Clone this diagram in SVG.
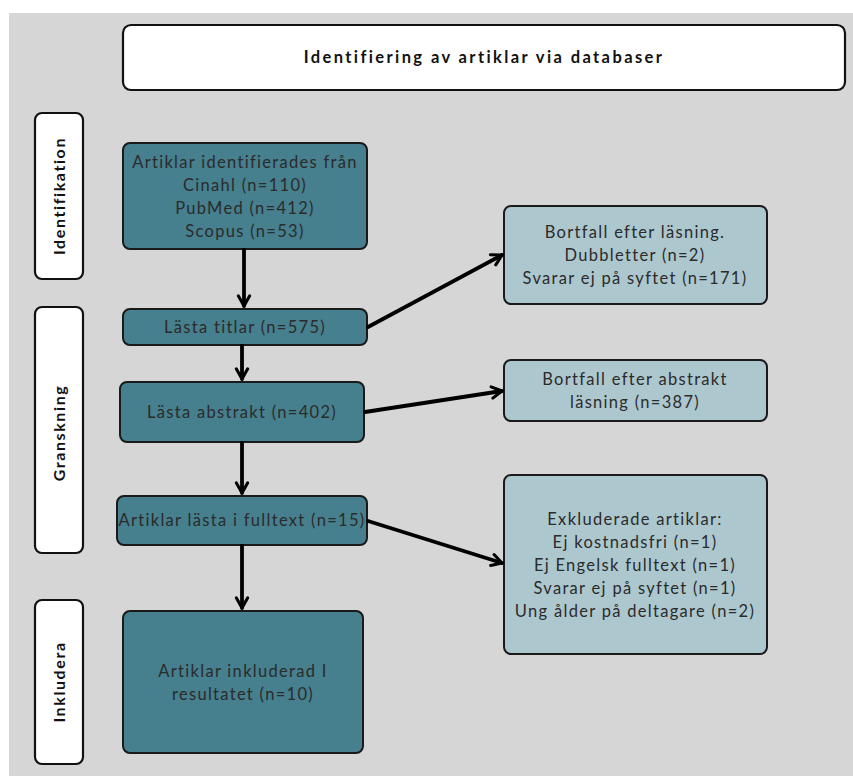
<svg xmlns="http://www.w3.org/2000/svg" width="853" height="776" viewBox="0 0 853 776">
<defs>
<style>
.bg{fill:#d6d6d6}
.lbl{fill:#ffffff;stroke:#111;stroke-width:2.2}
.dark{fill:#467f8d;stroke:#1a1a1a;stroke-width:2}
.light{fill:#adc7ce;stroke:#1a1a1a;stroke-width:2}
.t{font-family:"Lato","Noto Sans",sans-serif;font-size:16.5px;fill:#2b2b2b;text-anchor:middle;letter-spacing:1.3px}
.tb{font-family:"Lato","Noto Sans",sans-serif;font-size:16px;font-weight:bold;fill:#111;text-anchor:middle;letter-spacing:1.6px}
.tt{font-family:"Lato","Noto Sans",sans-serif;font-size:16.5px;font-weight:bold;fill:#111;text-anchor:middle;letter-spacing:2.4px}
.c{fill:none;stroke:#000;stroke-width:3.8;stroke-linecap:round}
</style>
<marker id="ah" viewBox="0 0 12 12" refX="10" refY="6" markerWidth="4" markerHeight="4" markerUnits="strokeWidth" orient="auto">
<path d="M2,1.5 L10,6 L2,10.5" fill="none" stroke="#000" stroke-width="2.4" stroke-linecap="round" stroke-linejoin="round"/>
</marker>
</defs>
<rect class="bg" x="9" y="13" width="844" height="763"/>
<g id="title"><rect class="lbl" x="123" y="25" width="722" height="65" rx="8"/><text class="tt" x="484" y="63">Identifiering av artiklar via databaser</text></g>
<g id="lbl-identifikation"><rect class="lbl" x="35" y="113" width="48" height="166" rx="7"/><text class="tb" transform="translate(65,196) rotate(-90)">Identifikation</text></g>
<g id="lbl-granskning"><rect class="lbl" x="35" y="307" width="48" height="246" rx="7"/><text class="tb" transform="translate(65,433) rotate(-90)">Granskning</text></g>
<g id="lbl-inkludera"><rect class="lbl" x="35" y="600" width="48" height="164" rx="7"/><text class="tb" transform="translate(65,682) rotate(-90)">Inkludera</text></g>
<g id="n1"><rect class="dark" x="123" y="143" width="244" height="106" rx="7"/><text class="t" x="245" y="168">Artiklar identifierades från</text><text class="t" x="245" y="191">Cinahl (n=110)</text><text class="t" x="245" y="214">PubMed (n=412)</text><text class="t" x="245" y="237">Scopus (n=53)</text></g>
<g id="n2"><rect class="dark" x="123" y="309" width="244" height="36" rx="7"/><text class="t" x="245" y="333">Lästa titlar (n=575)</text></g>
<g id="n3"><rect class="dark" x="120" y="382" width="244" height="60" rx="7"/><text class="t" x="242" y="418">Lästa abstrakt (n=402)</text></g>
<g id="n4"><rect class="dark" x="117" y="496" width="250" height="49" rx="7"/><text class="t" x="242" y="526">Artiklar lästa i fulltext (n=15)</text></g>
<g id="n5"><rect class="dark" x="123" y="611" width="240" height="142" rx="7"/><text class="t" x="243" y="677">Artiklar inkluderad I</text><text class="t" x="243" y="700">resultatet (n=10)</text></g>
<g id="r1"><rect class="light" x="504" y="206" width="263" height="98" rx="7"/><text class="t" x="635" y="238">Bortfall efter läsning.</text><text class="t" x="635" y="261">Dubbletter (n=2)</text><text class="t" x="635" y="284">Svarar ej på syftet (n=171)</text></g>
<g id="r2"><rect class="light" x="504" y="360" width="263" height="61" rx="7"/><text class="t" x="635" y="385">Bortfall efter abstrakt</text><text class="t" x="635" y="408">läsning (n=387)</text></g>
<g id="r3"><rect class="light" x="504" y="475" width="263" height="179" rx="7"/><text class="t" x="635" y="525">Exkluderade artiklar:</text><text class="t" x="635" y="548">Ej kostnadsfri (n=1)</text><text class="t" x="635" y="571">Ej Engelsk fulltext (n=1)</text><text class="t" x="635" y="594">Svarar ej på syftet (n=1)</text><text class="t" x="635" y="617">Ung ålder på deltagare (n=2)</text></g>
<g id="connectors">
<line class="c" x1="244" y1="250" x2="244" y2="306" marker-end="url(#ah)"/>
<line class="c" x1="242" y1="346" x2="242" y2="379" marker-end="url(#ah)"/>
<line class="c" x1="242" y1="443" x2="242" y2="493" marker-end="url(#ah)"/>
<line class="c" x1="242" y1="546" x2="242" y2="608" marker-end="url(#ah)"/>
<line class="c" x1="368" y1="327" x2="502" y2="255" marker-end="url(#ah)"/>
<line class="c" x1="365" y1="412" x2="502" y2="391" marker-end="url(#ah)"/>
<line class="c" x1="368" y1="521" x2="502" y2="563" marker-end="url(#ah)"/>
</g>
</svg>
